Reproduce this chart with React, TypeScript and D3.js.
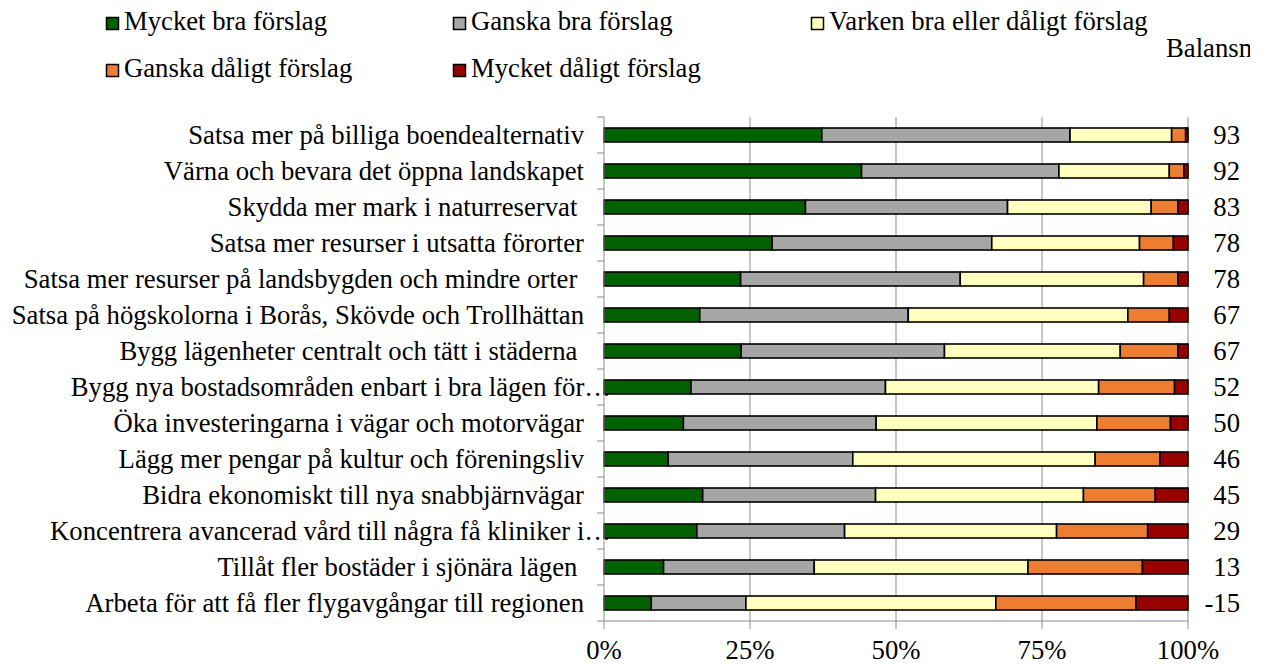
import React from "react";
import * as d3 from "d3";

const categories = [
  "Satsa mer på billiga boendealternativ",
  "Värna och bevara det öppna landskapet",
  "Skydda mer mark i naturreservat ",
  "Satsa mer resurser i utsatta förorter",
  "Satsa mer resurser på landsbygden och mindre orter ",
  "Satsa på högskolorna i Borås, Skövde och Trollhättan",
  "Bygg lägenheter centralt och tätt i städerna ",
  "Bygg nya bostadsområden enbart i bra lägen för…",
  "Öka investeringarna i vägar och motorvägar",
  "Lägg mer pengar på kultur och föreningsliv",
  "Bidra ekonomiskt till nya snabbjärnvägar",
  "Koncentrera avancerad vård till några få kliniker i…",
  "Tillåt fler bostäder i sjönära lägen ",
  "Arbeta för att få fler flygavgångar till regionen",
];

const seriesNames = [
  "Mycket bra förslag",
  "Ganska bra förslag",
  "Varken bra eller dåligt förslag",
  "Ganska dåligt förslag",
  "Mycket dåligt förslag",
];
const seriesColors = ["#006100", "#a6a6a6", "#ffffc0", "#ed7d31", "#990000"];

const veryGood = [37.3, 44.1, 34.5, 28.8, 23.4, 16.4, 23.5, 14.9, 13.6, 11.0, 16.9, 15.9, 10.2, 8.1];
const fairlyGood = [42.5, 33.8, 34.6, 37.6, 37.6, 35.7, 34.8, 33.3, 33.0, 31.6, 29.6, 25.3, 25.8, 16.2];
const neutral = [17.4, 18.9, 24.6, 25.3, 31.4, 37.6, 30.1, 36.5, 37.8, 41.5, 35.6, 36.3, 36.6, 42.8];
const fairlyBad = [2.4, 2.5, 4.6, 5.8, 5.9, 7.1, 9.9, 13.0, 12.6, 11.1, 12.3, 15.6, 19.6, 24.0];
const veryBad = [0.4, 0.7, 1.7, 2.5, 1.7, 3.2, 1.7, 2.3, 3.0, 4.8, 5.6, 6.9, 7.8, 8.9];

const balance = [93, 92, 83, 78, 78, 67, 67, 52, 50, 46, 45, 29, 13, -15];
const balanceTitle = "Balansmått";
const xTicks = [0, 25, 50, 75, 100];

const FONT = "'Liberation Serif', 'Times New Roman', serif";
const FS = 26.7;

export default function App() {
  const width = 1266;
  const height = 664;
  const left = 604, right = 1188, top = 117, bottom = 621;

  const rows = categories.map((c, i) => ({
    cat: c,
    s0: veryGood[i],
    s1: fairlyGood[i],
    s2: neutral[i],
    s3: fairlyBad[i],
    s4: veryBad[i],
  }));
  const keys = ["s0", "s1", "s2", "s3", "s4"];
  const stacked = d3.stack<any>().keys(keys)(rows);

  const x = d3.scaleLinear().domain([0, 100]).range([left, right]);
  const y = d3.scaleBand<string>().domain(categories).range([top, bottom]).padding(0);
  const step = y.step();
  const barH = 14;

  const legendCols = [106, 453, 811];
  const legendRows = [30, 77];

  return (
    <svg
      width={width}
      height={height}
      style={{ position: "absolute", left: 0, top: 0, display: "block", background: "#fff" }}
      fontFamily={FONT}
    >
      <defs>
        <clipPath id="clipTitle">
          <rect x={0} y={0} width={1250} height={height} />
        </clipPath>
      </defs>

      {/* legend */}
      {seriesNames.map((name, i) => {
        const col = i < 3 ? i : i - 3;
        const row = i < 3 ? 0 : 1;
        const lx = legendCols[col];
        const ly = legendRows[row];
        return (
          <g key={name}>
            <rect x={lx + 0.5} y={ly - 12.5} width={12} height={12} fill={seriesColors[i]} stroke="#000" strokeWidth={1.5} />
            <text x={lx + 18} y={ly} fontSize={FS} fill="#000">{name}</text>
          </g>
        );
      })}

      <text x={1166} y={57} fontSize={FS} fill="#000" clipPath="url(#clipTitle)">{balanceTitle}</text>

      {/* category labels (drawn under the bars, truncated ones run under the axis) */}
      {categories.map((c) => {
        const cy = (y(c) as number) + step / 2;
        const lx = c.endsWith("…") ? 611 : 584;
        return (
          <text key={c} x={lx} y={cy} dy="0.33em" fontSize={FS} textAnchor="end" fill="#000" style={{ whiteSpace: "pre" }}>
            {c}
          </text>
        );
      })}

      {/* gridlines */}
      {xTicks.slice(1).map((t) => (
        <line key={t} x1={x(t)} x2={x(t)} y1={top} y2={bottom} stroke="#8c8c8c" strokeWidth={1} />
      ))}

      {/* bars */}
      {stacked.map((layer, si) => (
        <g key={si} fill={seriesColors[si]}>
          {layer.map((d, i) => {
            const cy = (y(categories[i]) as number) + step / 2;
            return (
              <rect
                key={i}
                x={x(d[0])}
                y={cy - barH / 2}
                width={Math.max(0, x(d[1]) - x(d[0]))}
                height={barH}
                stroke="#000"
                strokeWidth={1.6}
              />
            );
          })}
        </g>
      ))}

      {/* left axis */}
      <line x1={left} x2={left} y1={top} y2={bottom} stroke="#8c8c8c" strokeWidth={1} />
      {d3.range(categories.length + 1).map((i) => (
        <line key={i} x1={left - 7} x2={left} y1={top + i * step} y2={top + i * step} stroke="#8c8c8c" strokeWidth={1} />
      ))}

      {/* bottom axis */}
      <line x1={left} x2={right} y1={bottom} y2={bottom} stroke="#8c8c8c" strokeWidth={1} />
      {xTicks.map((t) => (
        <g key={t}>
          <line x1={x(t)} x2={x(t)} y1={bottom} y2={bottom + 8} stroke="#8c8c8c" strokeWidth={1} />
          <text x={x(t)} y={659} fontSize={FS} textAnchor="middle" fill="#000">{t}%</text>
        </g>
      ))}

      {/* balance values */}
      {balance.map((b, i) => {
        const cy = (y(categories[i]) as number) + step / 2;
        return (
          <text key={i} x={1240} y={cy} dy="0.33em" fontSize={FS} textAnchor="end" fill="#000">
            {b}
          </text>
        );
      })}
    </svg>
  );
}
